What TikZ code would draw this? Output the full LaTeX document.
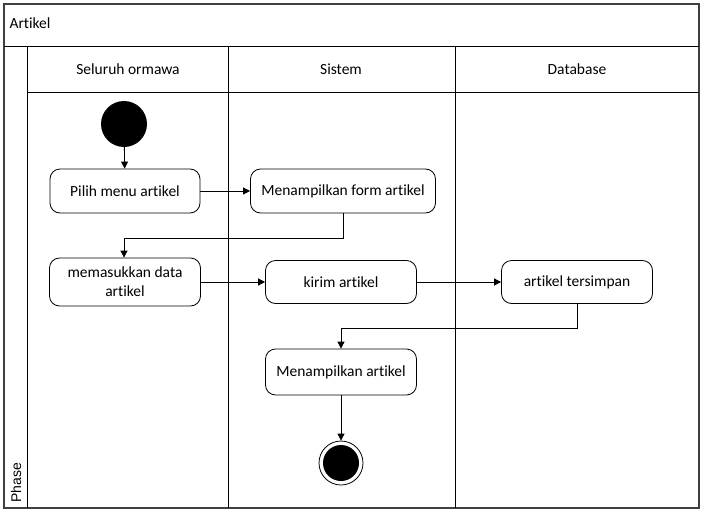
\documentclass[tikz,border=0pt]{standalone}
\usepackage{fontspec}
\setmainfont[Ligatures={NoCommon,NoContextual}, RawFeature={-liga;-clig;-calt}]{Carlito}
\newfontfamily\phasefont{Liberation Sans}
\usetikzlibrary{arrows.meta}
\begin{document}
\begin{tikzpicture}[x=1pt,y=-1pt,
  act/.style={draw, rounded corners=10pt, minimum width=151pt, minimum height=44pt, align=center, font=\fontsize{15.5}{19}\selectfont, line width=0.8pt},
  flow/.style={-{Triangle[length=7pt,width=7pt]}, line width=0.8pt},
  frame/.style={line width=0.9pt},
  lbl/.style={font=\fontsize{15.5}{19}\selectfont}]
\useasboundingbox (0,0) rectangle (701,514);
% frame
\draw[frame, draw=black!75, line width=1.3pt] (4,4) rectangle (699,508);
\draw[frame] (4,46) -- (699,46);
\draw[frame] (27,46) -- (27,508);
\draw[frame] (27,92) -- (699,92);
\draw[frame] (228,46) -- (228,508);
\draw[frame] (455,46) -- (455,508);
\node[lbl, anchor=west] (title) at (6,23) {Artikel};
\node[lbl] (lane1) at (128,69) {Seluruh ormawa};
\node[lbl] (lane2) at (341,69) {Sistem};
\node[lbl] (lane3) at (577,69) {Database};
\node[font=\phasefont\fontsize{14}{16}\selectfont, rotate=90, anchor=west, inner sep=1pt] (phase) at (16,504) {Phase};
% nodes
\node[circle, fill=black, minimum size=46pt, inner sep=0pt] (start) at (124,124) {};
\node[act, minimum width=150pt] (pilih) at (125,191) {Pilih menu artikel};
\node[act, minimum width=185pt] (form) at (343,191) {Menampilkan form artikel};
\node[act, minimum width=151pt, minimum height=48pt, inner sep=2pt] (masuk) at (125,282) {memasukkan data\\artikel};
\node[act, minimum width=151pt, minimum height=43pt] (kirim) at (341,282) {kirim artikel};
\node[act, minimum width=151pt, minimum height=43pt] (simpan) at (577,282) {artikel tersimpan};
\node[act, minimum width=151pt, minimum height=46pt] (tampil) at (341,372) {Menampilkan artikel};
\node[circle, draw, line width=0.8pt, minimum size=44pt, inner sep=0pt] (end) at (341,463) {};
\node[circle, fill=black, minimum size=36pt, inner sep=0pt] (endin) at (end.center) {};
% connectors
\draw[flow] (start) -- (pilih);
\draw[flow] (pilih) -- (form);
\draw[flow] (form.south) |- (124,238) -- (masuk.north -| 124,0);
\draw[flow] (masuk) -- (kirim);
\draw[flow] (kirim) -- (simpan);
\draw[flow] (simpan.south) |- (341,328) -- (tampil.north);
\draw[flow] (tampil) -- (end);
\end{tikzpicture}
\end{document}
